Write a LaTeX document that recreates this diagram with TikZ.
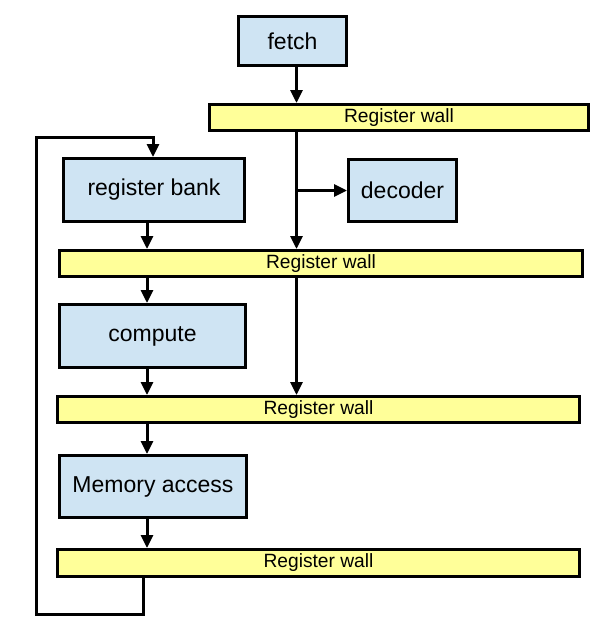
\documentclass[tikz,border=0pt]{standalone}
\usepackage{fontspec}
\setmainfont{Liberation Sans}
\usetikzlibrary{arrows.meta}
\definecolor{boxblue}{RGB}{207,228,243}
\definecolor{wallyellow}{RGB}{255,255,153}
\begin{document}
\begin{tikzpicture}[x=1pt,y=-1pt,
  stagebox/.style={draw=black,line width=3pt,fill=boxblue,inner sep=0pt,
    font=\fontsize{23}{27}\selectfont},
  wallbox/.style={draw=black,line width=3pt,fill=wallyellow,inner sep=0pt,
    font=\fontsize{19.2}{23}\selectfont},
  arr/.style={line width=3pt,-{Triangle[length=13pt,width=12pt]}},
  ln/.style={line width=3pt}]
\useasboundingbox (0,0) rectangle (611,635);
\node[stagebox,minimum width=108pt,minimum height=49pt] (fetch) at (292.5,41) {fetch};
\node[wallbox,minimum width=379pt,minimum height=26pt] (wall1) at (399,117.5) {Register wall};
\node[stagebox,minimum width=181pt,minimum height=63pt] (rb) at (154,190) {register bank};
\node[stagebox,minimum width=108pt,minimum height=62pt] (dec) at (402.5,190.5) {decoder};
\node[wallbox,minimum width=523pt,minimum height=26pt] (wall2) at (321,263.5) {Register wall};
\node[stagebox,minimum width=186pt,minimum height=63pt] (comp) at (152.5,336) {compute};
\node[wallbox,minimum width=522pt,minimum height=26pt] (wall3) at (318.5,409.5) {Register wall};
\node[stagebox,minimum width=187pt,minimum height=62pt] (mem) at (153,486.5) {Memory access};
\node[wallbox,minimum width=522pt,minimum height=27pt] (wall4) at (318.5,563) {Register wall};
\coordinate (colL) at (147,0);
\coordinate (colM) at (296.5,0);
\coordinate (colB) at (143.5,0);
\coordinate (colT) at (153,0);
\coordinate (lb) at (36,614);
\coordinate (lt) at (36,137);
% main flow
\draw[arr] (fetch.south -| colM) -- (wall1.north -| colM);
\draw[arr] (wall1.south -| colM) -- (wall2.north -| colM);
\draw[arr] (colM |- dec.west) -- (dec.west);
\draw[arr] (rb.south -| colL) -- (wall2.north -| colL);
\draw[arr] (wall2.south -| colL) -- (comp.north -| colL);
\draw[arr] (wall2.south -| colM) -- (wall3.north -| colM);
\draw[arr] (comp.south -| colL) -- (wall3.north -| colL);
\draw[arr] (wall3.south -| colL) -- (mem.north -| colL);
\draw[arr] (mem.south -| colL) -- (wall4.north -| colL);
% feedback loop
\draw[arr,line join=miter] (wall4.south -| colB) -- (lb -| colB) -- (lb) -- (lt) -- (lt -| colT) -- (rb.north -| colT);
\end{tikzpicture}
\end{document}
